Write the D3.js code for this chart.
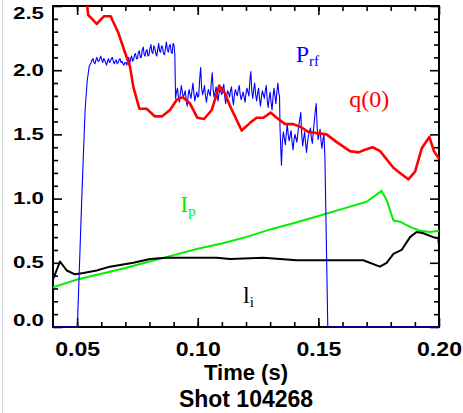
<!DOCTYPE html>
<html>
<head>
<meta charset="utf-8">
<script src="https://d3js.org/d3.v7.min.js"></script>
<style>
  body { margin: 0; background: #fff; }
  svg { display: block; }
</style>
</head>
<body>
<div id="chart-container"></div>
<script>
// tick labels
const xMajor = [0.05, 0.10, 0.15, 0.20];
const xMinor = [0.05, 0.06, 0.07, 0.08, 0.09, 0.10, 0.11, 0.12, 0.13, 0.14, 0.15, 0.16, 0.17, 0.18, 0.19];
const yMajor = [0.0, 0.5, 1.0, 1.5, 2.0, 2.5];
const yMinor = [0.1, 0.2, 0.3, 0.4, 0.6, 0.7, 0.8, 0.9, 1.1, 1.2, 1.3, 1.4, 1.6, 1.7, 1.8, 1.9, 2.1, 2.2, 2.3, 2.4];

// q(0)
const q0 = [
  [0.0535, 2.62], [0.0546, 2.43], [0.0581, 2.36], [0.0611, 2.42], [0.0639, 2.42], [0.0671, 2.29],
  [0.0698, 2.14], [0.0719, 2.03], [0.0733, 1.87], [0.0758, 1.70], [0.0788, 1.70], [0.0823, 1.64],
  [0.0851, 1.64], [0.0885, 1.69], [0.0913, 1.77], [0.0938, 1.79], [0.0968, 1.74], [0.0998, 1.63],
  [0.1026, 1.62], [0.1058, 1.69], [0.1089, 1.88], [0.1113, 1.82], [0.1134, 1.72], [0.1182, 1.53],
  [0.1217, 1.59], [0.1244, 1.63], [0.1272, 1.63], [0.1302, 1.67], [0.1327, 1.63], [0.1362, 1.58],
  [0.1396, 1.58], [0.1424, 1.56], [0.1458, 1.52], [0.1493, 1.51], [0.1534, 1.50], [0.1576, 1.44],
  [0.1631, 1.37], [0.1666, 1.36], [0.1693, 1.38], [0.1725, 1.40], [0.1756, 1.37], [0.1811, 1.24],
  [0.1838, 1.20], [0.1873, 1.15], [0.1901, 1.21], [0.1928, 1.39], [0.1960, 1.48], [0.1979, 1.37],
  [0.2000, 1.31]
];

// P_rf
const prf = [
  [0.0400, 0.00], [0.0501, 0.00], [0.0519, 0.99], [0.0533, 1.69], [0.0542, 1.92], [0.0550, 2.03],
  [0.0558, 2.06], [0.0562, 2.08], [0.0566, 2.09], [0.0570, 2.06], [0.0574, 2.05], [0.0578, 2.08],
  [0.0582, 2.10], [0.0586, 2.07], [0.0590, 2.07], [0.0594, 2.09], [0.0598, 2.11], [0.0602, 2.08],
  [0.0606, 2.06], [0.0610, 2.09], [0.0614, 2.08], [0.0618, 2.06], [0.0622, 2.04], [0.0626, 2.07],
  [0.0630, 2.09], [0.0634, 2.06], [0.0638, 2.07], [0.0642, 2.09], [0.0646, 2.10], [0.0650, 2.07],
  [0.0654, 2.05], [0.0658, 2.07], [0.0662, 2.08], [0.0666, 2.05], [0.0670, 2.06], [0.0674, 2.08],
  [0.0678, 2.09], [0.0682, 2.06], [0.0686, 2.07], [0.0690, 2.05], [0.0694, 2.04], [0.0698, 2.06],
  [0.0702, 2.06], [0.0706, 2.04], [0.0710, 2.08], [0.0714, 2.10], [0.0718, 2.05], [0.0722, 2.09],
  [0.0726, 2.11], [0.0730, 2.07], [0.0734, 2.08], [0.0738, 2.12], [0.0742, 2.13], [0.0746, 2.09],
  [0.0750, 2.09], [0.0754, 2.14], [0.0758, 2.15], [0.0762, 2.10], [0.0766, 2.10], [0.0770, 2.16],
  [0.0774, 2.18], [0.0778, 2.12], [0.0782, 2.11], [0.0786, 2.15], [0.0790, 2.16], [0.0794, 2.11],
  [0.0798, 2.12], [0.0802, 2.17], [0.0806, 2.20], [0.0810, 2.14], [0.0814, 2.13], [0.0818, 2.19],
  [0.0822, 2.17], [0.0826, 2.13], [0.0830, 2.11], [0.0834, 2.16], [0.0838, 2.21], [0.0842, 2.15],
  [0.0846, 2.14], [0.0850, 2.19], [0.0854, 2.18], [0.0858, 2.13], [0.0862, 2.12], [0.0866, 2.17],
  [0.0870, 2.22], [0.0874, 2.16], [0.0878, 2.14], [0.0882, 2.19], [0.0886, 2.20], [0.0890, 2.14],
  [0.0894, 2.13], [0.0898, 2.21], [0.0902, 2.19], [0.0905, 2.12], [0.0908, 1.78],
  [0.0912, 1.83], [0.0916, 1.86], [0.0920, 1.79], [0.0924, 1.75], [0.0928, 1.82], [0.0932, 1.88],
  [0.0936, 1.83], [0.0940, 1.79], [0.0944, 1.81], [0.0948, 1.84], [0.0952, 1.77], [0.0956, 1.72],
  [0.0960, 1.80], [0.0964, 1.85], [0.0968, 1.81], [0.0972, 1.78], [0.0976, 1.84], [0.0980, 1.90],
  [0.0984, 1.82], [0.0988, 1.76], [0.0992, 1.80], [0.0996, 1.83], [0.1000, 1.79], [0.1004, 1.80],
  [0.1008, 1.93], [0.1012, 2.02], [0.1016, 1.86], [0.1020, 1.81], [0.1024, 1.84], [0.1028, 1.88],
  [0.1032, 1.80], [0.1036, 1.75], [0.1040, 1.81], [0.1044, 1.85], [0.1048, 1.82], [0.1052, 1.80],
  [0.1056, 1.90], [0.1060, 1.98], [0.1064, 1.85], [0.1068, 1.79], [0.1072, 1.83], [0.1076, 1.87],
  [0.1080, 1.81], [0.1084, 1.76], [0.1088, 1.82], [0.1092, 1.85], [0.1096, 1.83], [0.1100, 1.81],
  [0.1104, 1.86], [0.1108, 1.89], [0.1112, 1.79], [0.1116, 1.74], [0.1120, 1.80], [0.1124, 1.84],
  [0.1128, 1.82], [0.1132, 1.79], [0.1136, 1.84], [0.1140, 1.87], [0.1144, 1.78], [0.1148, 1.73],
  [0.1152, 1.81], [0.1156, 1.85], [0.1160, 1.82], [0.1164, 1.80], [0.1168, 1.85], [0.1172, 1.88],
  [0.1176, 1.81], [0.1180, 1.77], [0.1184, 1.80], [0.1188, 1.83], [0.1192, 1.79], [0.1196, 1.75],
  [0.1200, 1.82], [0.1204, 1.86], [0.1208, 1.83], [0.1212, 1.80], [0.1216, 1.92], [0.1220, 1.99],
  [0.1224, 1.84], [0.1228, 1.78], [0.1232, 1.85], [0.1236, 1.90], [0.1240, 1.81], [0.1244, 1.76],
  [0.1248, 1.82], [0.1252, 1.86], [0.1256, 1.78], [0.1260, 1.72], [0.1264, 1.79], [0.1268, 1.84],
  [0.1272, 1.81], [0.1276, 1.78], [0.1280, 1.84], [0.1284, 1.88], [0.1288, 1.77], [0.1292, 1.71],
  [0.1296, 1.78], [0.1300, 1.83], [0.1304, 1.75], [0.1308, 1.69], [0.1312, 1.79], [0.1316, 1.86],
  [0.1320, 1.80], [0.1324, 1.74], [0.1328, 1.83], [0.1332, 1.90], [0.1336, 1.82], [0.1339, 1.80],
  [0.1341, 1.55],
  [0.1344, 1.40], [0.1347, 1.26], [0.1351, 1.45], [0.1355, 1.52], [0.1359, 1.47], [0.1363, 1.42],
  [0.1367, 1.50], [0.1371, 1.58], [0.1375, 1.50], [0.1379, 1.45], [0.1383, 1.49], [0.1387, 1.53],
  [0.1391, 1.44], [0.1395, 1.38], [0.1399, 1.46], [0.1403, 1.50], [0.1407, 1.47], [0.1411, 1.44],
  [0.1415, 1.51], [0.1419, 1.57], [0.1423, 1.62], [0.1427, 1.67], [0.1431, 1.50], [0.1435, 1.41],
  [0.1439, 1.47], [0.1443, 1.52], [0.1447, 1.43], [0.1451, 1.36], [0.1455, 1.44], [0.1459, 1.49],
  [0.1463, 1.52], [0.1467, 1.55], [0.1471, 1.47], [0.1475, 1.43], [0.1479, 1.52], [0.1483, 1.60],
  [0.1487, 1.68], [0.1491, 1.74], [0.1495, 1.55], [0.1499, 1.46], [0.1503, 1.50], [0.1507, 1.54],
  [0.1511, 1.45], [0.1515, 1.39], [0.1519, 1.46], [0.1523, 1.50], [0.1527, 1.33],
  [0.1539, 0.00], [0.2000, 0.00]
];

// I_p
const ip = [
  [0.0400, 0.31], [0.0500, 0.37], [0.0600, 0.415], [0.0700, 0.46], [0.0800, 0.51], [0.0900, 0.56],
  [0.1000, 0.61], [0.1100, 0.65], [0.1200, 0.70], [0.1300, 0.76], [0.1400, 0.81], [0.1500, 0.865],
  [0.1600, 0.92], [0.1700, 0.975], [0.1762, 1.06], [0.1783, 0.99], [0.1811, 0.83], [0.1838, 0.82],
  [0.1880, 0.78], [0.1921, 0.75], [0.1963, 0.74], [0.2000, 0.75]
];

// l_i
const li = [
  [0.0400, 0.37], [0.0429, 0.51], [0.0457, 0.44], [0.0491, 0.41], [0.0526, 0.42], [0.0581, 0.44],
  [0.0636, 0.47], [0.0733, 0.50], [0.0802, 0.53], [0.0871, 0.54], [0.0940, 0.54], [0.1009, 0.54],
  [0.1079, 0.54], [0.1134, 0.53], [0.1272, 0.54], [0.1410, 0.52], [0.1548, 0.52], [0.1686, 0.52],
  [0.1755, 0.47], [0.1783, 0.50], [0.1811, 0.57], [0.1845, 0.60], [0.1880, 0.70], [0.1907, 0.74],
  [0.1935, 0.73], [0.1976, 0.70], [0.1997, 0.69], [0.2000, 0.64]
];

const width = 463;
const height = 413;
const plot = { left: 53, right: 439, top: 6, bottom: 327 };
const sans = '"Liberation Sans", Arial, Helvetica, sans-serif';
const serif = '"Liberation Serif", "Times New Roman", Times, serif';

const svg = d3.select('#chart-container')
  .append('svg')
  .attr('width', width)
  .attr('height', height)
  .attr('viewBox', [0, 0, width, height]);

svg.append('rect').attr('width', width).attr('height', height).attr('fill', '#fff');
// faint page edge on the left
svg.append('line')
  .attr('x1', 2.5).attr('x2', 2.5).attr('y1', 0).attr('y2', height)
  .attr('stroke', '#d4d4d4').attr('stroke-width', 1);

// scales
const x = d3.scaleLinear().domain([0.04, 0.20]).range([plot.left, plot.right]);
const y = d3.scaleLinear().domain([0, 2.5]).range([plot.bottom, plot.top]);

// ticks on all four sides, pointing inward
function ticks(axis, tv, size, transform) {
  svg.append('g')
    .attr('transform', transform)
    .call(axis.tickValues(tv).tickSize(size).tickFormat(''))
    .call(g => g.select('.domain').remove())
    .call(g => g.selectAll('line').attr('stroke', '#000').attr('stroke-width', 1.6));
}
ticks(d3.axisBottom(x), xMinor, -5, `translate(0,${plot.bottom})`);
ticks(d3.axisBottom(x), xMajor, -9, `translate(0,${plot.bottom})`);
ticks(d3.axisTop(x), xMinor, -5, `translate(0,${plot.top})`);
ticks(d3.axisTop(x), xMajor, -9, `translate(0,${plot.top})`);
ticks(d3.axisLeft(y), yMinor, -5, `translate(${plot.left},0)`);
ticks(d3.axisLeft(y), yMajor, -9, `translate(${plot.left},0)`);
ticks(d3.axisRight(y), yMinor, -5, `translate(${plot.right},0)`);
ticks(d3.axisRight(y), yMajor, -9, `translate(${plot.right},0)`);

// frame
svg.append('rect')
  .attr('x', plot.left).attr('y', plot.top)
  .attr('width', plot.right - plot.left).attr('height', plot.bottom - plot.top)
  .attr('fill', 'none').attr('stroke', '#000').attr('stroke-width', 2);

// tick labels
svg.append('g')
  .selectAll('text')
  .data(yMajor)
  .join('text')
    .attr('x', 44)
    .attr('y', d => Math.min(Math.max(y(d) + 5.5, 19), 326))
    .attr('text-anchor', 'end')
    .attr('font-family', sans).attr('font-weight', 'bold').attr('font-size', 16)
    .attr('textLength', 31).attr('lengthAdjust', 'spacingAndGlyphs')
    .text(d => d.toFixed(1));

svg.append('g')
  .selectAll('text')
  .data(xMajor)
  .join('text')
    .attr('x', d => x(d) - 22)
    .attr('y', 356)
    .attr('font-family', sans).attr('font-weight', 'bold').attr('font-size', 20)
    .attr('textLength', 45).attr('lengthAdjust', 'spacingAndGlyphs')
    .text(d => d.toFixed(2));

svg.append('text')
  .attr('x', (plot.left + plot.right) / 2).attr('y', 380)
  .attr('text-anchor', 'middle')
  .attr('font-family', sans).attr('font-weight', 'bold').attr('font-size', 22)
  .text('Time (s)');

svg.append('text')
  .attr('x', (plot.left + plot.right) / 2).attr('y', 407)
  .attr('text-anchor', 'middle')
  .attr('font-family', sans).attr('font-weight', 'bold').attr('font-size', 23)
  .text('Shot 104268');

// lines
svg.append('clipPath').attr('id', 'clip')
  .append('rect')
  .attr('x', plot.left).attr('y', plot.top)
  .attr('width', plot.right - plot.left).attr('height', plot.bottom - plot.top + 1);

const line = d3.line().x(d => x(d[0])).y(d => y(d[1]));
const lines = svg.append('g').attr('clip-path', 'url(#clip)').attr('fill', 'none')
  .attr('stroke-linejoin', 'round');

lines.append('path').datum(ip).attr('d', line).attr('stroke', '#00f000').attr('stroke-width', 2);
lines.append('path').datum(li).attr('d', line).attr('stroke', '#000').attr('stroke-width', 2);
lines.append('path').datum(prf).attr('d', line).attr('stroke', '#0000ff').attr('stroke-width', 1.1);
lines.append('path').datum(q0).attr('d', line).attr('stroke', '#ff0000').attr('stroke-width', 2.6);

// annotations
function label(t, v, main, sub, color) {
  const txt = svg.append('text')
    .attr('x', x(t)).attr('y', y(v))
    .attr('font-family', serif).attr('font-size', 24).attr('fill', color)
    .text(main);
  if (sub) txt.append('tspan').attr('dy', 4).attr('font-size', 15).text(sub);
}
label(0.1406, 2.06, 'P', 'rf', '#0000ff');
label(0.1628, 1.716, 'q(0)', null, '#ff0000');
label(0.0927, 0.898, 'I', 'p', '#00f000');
label(0.1188, 0.187, 'l', 'i', '#000');

svg.node();
</script>
</body>
</html>
